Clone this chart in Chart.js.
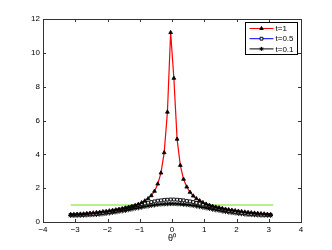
<!DOCTYPE html>
<html>
<head>
<meta charset="utf-8">
<script src="https://cdn.jsdelivr.net/npm/chart.js@4"></script>
<style>
	html, body { margin: 0; padding: 0; background: #fff; }
	#wrap { width: 332px; height: 250px; }
</style>
</head>
<body>
<div id="wrap"><canvas id="chart" width="332" height="250"></canvas></div>
<script>
// theta grid, -pi:0.1:pi
const theta = [
	-3.142, -3.042, -2.942, -2.842, -2.742, -2.642, -2.542, -2.442, -2.342, -2.242,
	-2.142, -2.042, -1.942, -1.842, -1.742, -1.642, -1.542, -1.442, -1.342, -1.242,
	-1.142, -1.042, -0.942, -0.842, -0.742, -0.642, -0.542, -0.442, -0.342, -0.242,
	-0.142, -0.042, 0.058, 0.158, 0.258, 0.358, 0.458, 0.558, 0.658, 0.758,
	0.858, 0.958, 1.058, 1.158, 1.258, 1.358, 1.458, 1.558, 1.658, 1.758,
	1.858, 1.958, 2.058, 2.158, 2.258, 2.358, 2.458, 2.558, 2.658, 2.758,
	2.858, 2.958, 3.058
];

const t1 = [
	0.45, 0.45, 0.46, 0.47, 0.48, 0.50, 0.52, 0.54, 0.56, 0.58,
	0.61, 0.63, 0.66, 0.69, 0.72, 0.75, 0.79, 0.83, 0.87, 0.92,
	0.98, 1.05, 1.14, 1.25, 1.38, 1.56, 1.82, 2.25, 2.90, 4.10,
	6.50, 11.2, 8.50, 4.90, 3.35, 2.53, 2.07, 1.76, 1.54, 1.38,
	1.26, 1.15, 1.06, 0.99, 0.93, 0.88, 0.84, 0.80, 0.76, 0.73,
	0.70, 0.67, 0.64, 0.62, 0.59, 0.57, 0.55, 0.53, 0.51, 0.49,
	0.48, 0.46, 0.45
];

const t05 = [
	0.42, 0.42, 0.43, 0.43, 0.44, 0.45, 0.46, 0.48, 0.50, 0.52,
	0.55, 0.58, 0.61, 0.64, 0.68, 0.72, 0.76, 0.81, 0.85, 0.90,
	0.95, 1.00, 1.05, 1.10, 1.14, 1.18, 1.22, 1.26, 1.28, 1.31,
	1.32, 1.33, 1.33, 1.32, 1.30, 1.28, 1.25, 1.22, 1.18, 1.13,
	1.09, 1.04, 0.99, 0.94, 0.89, 0.84, 0.80, 0.75, 0.71, 0.67,
	0.64, 0.60, 0.57, 0.54, 0.52, 0.50, 0.48, 0.46, 0.45, 0.44,
	0.43, 0.42, 0.42
];

const t01 = [
	0.38, 0.38, 0.38, 0.39, 0.40, 0.41, 0.42, 0.43, 0.44, 0.46,
	0.48, 0.50, 0.53, 0.56, 0.59, 0.62, 0.65, 0.68, 0.72, 0.76,
	0.80, 0.83, 0.87, 0.91, 0.94, 0.97, 1.00, 1.03, 1.05, 1.06,
	1.07, 1.08, 1.08, 1.07, 1.06, 1.04, 1.02, 1.00, 0.97, 0.94,
	0.90, 0.86, 0.83, 0.79, 0.75, 0.71, 0.68, 0.64, 0.61, 0.58,
	0.55, 0.53, 0.50, 0.48, 0.46, 0.44, 0.43, 0.42, 0.41, 0.40,
	0.39, 0.39, 0.38
];

const uniformX = [-3.14, 3.14];
const uniformY = [1, 1];

const seriesLabels = ["t=1", "t=0.5", "t=0.1"];
const xTicks = [-4, -3, -2, -1, 0, 1, 2, 3, 4];
const yTicks = [0, 2, 4, 6, 8, 10, 12];

function pts(xs, ys) {
	return xs.map((x, i) => ({ x: x, y: ys[i] }));
}

const FONT = "'Liberation Sans', Arial, sans-serif";

// MATLAB-ish box with inward ticks and legend inside the axes
const matlabAxes = {
	id: "matlabAxes",
	afterDraw(chart) {
		let ctx = chart.ctx;
		let a = chart.chartArea;
		let xs = chart.scales.x;
		let ys = chart.scales.y;
		ctx.save();
		ctx.strokeStyle = "#333";
		ctx.lineWidth = 1;
		ctx.strokeRect(Math.round(a.left) + 0.5, Math.round(a.top) + 0.5,
			Math.round(a.right - a.left), Math.round(a.bottom - a.top));
		ctx.beginPath();
		for (let v of xTicks) {
			let px = Math.round(xs.getPixelForValue(v)) + 0.5;
			ctx.moveTo(px, a.bottom); ctx.lineTo(px, a.bottom - 3);
			ctx.moveTo(px, a.top); ctx.lineTo(px, a.top + 3);
		}
		for (let v of yTicks) {
			let py = Math.round(ys.getPixelForValue(v)) + 0.5;
			ctx.moveTo(a.left, py); ctx.lineTo(a.left + 3, py);
			ctx.moveTo(a.right, py); ctx.lineTo(a.right - 3, py);
		}
		ctx.stroke();

		// legend
		let bw = 52, bh = 32;
		let bx = Math.round(a.right - 4 - bw) + 0.5;
		let by = Math.round(a.top + 3) + 0.5;
		ctx.fillStyle = "#fff";
		ctx.fillRect(bx, by, bw, bh);
		ctx.strokeStyle = "#000";
		ctx.strokeRect(bx, by, bw, bh);
		ctx.font = "8px " + FONT;
		ctx.textBaseline = "middle";
		for (let i = 0; i < seriesLabels.length; i++) {
			let ds = chart.data.datasets[i];
			let y = by + 6 + i * 10.2;
			ctx.strokeStyle = ds.borderColor;
			ctx.lineWidth = 1;
			ctx.beginPath();
			ctx.moveTo(bx + 4, y); ctx.lineTo(bx + 28, y);
			ctx.stroke();
			ctx.strokeStyle = ds.pointBorderColor;
			ctx.fillStyle = ds.pointBackgroundColor;
			Chart.helpers.drawPoint(ctx, {
				pointStyle: ds.pointStyle, radius: 2, borderWidth: 0.9
			}, bx + 16, y);
			ctx.fillStyle = "#000";
			ctx.fillText(seriesLabels[i], bx + 30, y + 0.5);
		}
		ctx.restore();
	}
};

let ctx = document.getElementById("chart").getContext("2d");
new Chart(ctx, {
	type: "scatter",
	data: {
		datasets: [
			{
				label: seriesLabels[0],
				data: pts(theta, t1),
				showLine: true,
				borderColor: "#ff0000",
				borderWidth: 1.2,
				pointStyle: "triangle",
				pointRadius: 2.2,
				pointBackgroundColor: "#000",
				pointBorderColor: "#000",
				pointBorderWidth: 0.8,
			},
			{
				label: seriesLabels[1],
				data: pts(theta, t05),
				showLine: true,
				borderColor: "#0000ff",
				borderWidth: 1,
				pointStyle: "rect",
				pointRadius: 2,
				pointBackgroundColor: "#fff",
				pointBorderColor: "#000",
				pointBorderWidth: 0.9,
			},
			{
				label: seriesLabels[2],
				data: pts(theta, t01),
				showLine: true,
				borderColor: "#000",
				borderWidth: 1,
				pointStyle: "star",
				pointRadius: 2.4,
				pointBackgroundColor: "#000",
				pointBorderColor: "#000",
				pointBorderWidth: 0.9,
			},
			{
				label: "uniform",
				data: pts(uniformX, uniformY),
				showLine: true,
				borderColor: "#b4f08c",
				borderWidth: 2,
				pointRadius: 0,
			},
		],
	},
	options: {
		responsive: false,
		animation: false,
		events: [],
		layout: { padding: { top: 19, right: 31, left: 0, bottom: 6 } },
		plugins: {
			legend: { display: false },
			tooltip: { enabled: false },
		},
		scales: {
			x: {
				type: "linear",
				min: -4,
				max: 4,
				afterBuildTicks: (s) => { s.ticks = xTicks.map((v) => ({ value: v })); },
				afterFit: (s) => { s.height = 22; },
				grid: { display: false, drawTicks: false },
				border: { display: false },
				ticks: {
					padding: 3,
					color: "#000",
					font: { size: 8, family: FONT },
					callback: (v) => String(v).replace("-", "\u2212"),
				},
				title: {
					display: true,
					text: "θ⁰",
					color: "#000",
					padding: { top: 0, bottom: 0 },
					font: { size: 9, family: FONT },
				},
			},
			y: {
				type: "linear",
				min: 0,
				max: 12,
				afterBuildTicks: (s) => { s.ticks = yTicks.map((v) => ({ value: v })); },
				afterFit: (s) => { s.width = 43; },
				grid: { display: false, drawTicks: false },
				border: { display: false },
				ticks: {
					padding: 3,
					color: "#000",
					font: { size: 8, family: FONT },
				},
			},
		},
	},
	plugins: [matlabAxes],
});
</script>
</body>
</html>
